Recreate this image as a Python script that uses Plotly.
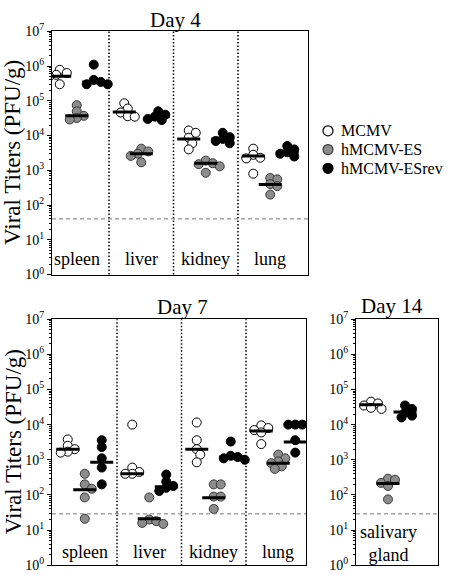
import numpy as np
import plotly.graph_objects as go

SERIES = ["MCMV", "hMCMV-ES", "hMCMV-ESrev"]
ORGANS_D4 = ["spleen", "liver", "kidney", "lung"]
ORGANS_D7 = ["spleen", "liver", "kidney", "lung"]
ORGANS_D14 = ["salivary<br>gland"]
TICK_EXPONENTS = [0, 1, 2, 3, 4, 5, 6, 7]

# Day 4 (PFU/g), one list per organ
D4_MCMV = [[7.8e5, 6.3e5, 5.6e5, 5.0e5, 3.0e5], [8.5e4, 6.0e4, 4.6e4, 3.6e4, 3.5e4],
           [1.4e4, 1.2e4, 8.7e3, 6.0e3, 4.0e3], [4.2e3, 2.8e3, 2.3e3, 2.2e3, 8.0e2]]
D4_ES = [[7.5e4, 5.0e4, 3.7e4, 3.2e4, 2.9e4], [4.2e3, 3.5e3, 3.0e3, 2.6e3, 1.7e3],
         [1.9e3, 1.6e3, 1.5e3, 1.3e3, 8.5e2], [6.0e2, 5.5e2, 4.0e2, 3.5e2, 2.0e2]]
D4_ESREV = [[1.1e6, 4.0e5, 3.5e5, 3.0e5, 3.0e5], [5.0e4, 4.0e4, 3.5e4, 3.0e4, 2.8e4],
            [1.2e4, 9.0e3, 8.0e3, 7.0e3, 6.0e3], [5.0e3, 4.0e3, 3.3e3, 3.0e3, 2.5e3]]
D4_MCMV_BAR = [5.1e5, 4.8e4, 7.9e3, 2.6e3]
D4_ES_BAR = [3.7e4, 3.0e3, 1.6e3, 3.9e2]
D4_ESREV_BAR = [3.5e5, 3.5e4, 8.0e3, 3.3e3]
D4_LIMIT = 40

# Day 7
D7_MCMV = [[3.8e3, 2.5e3, 2.0e3, 1.7e3, 1.6e3], [1.0e4, 6.0e2, 4.5e2, 4.0e2, 4.0e2],
           [1.15e4, 3.6e3, 2.0e3, 1.4e3, 8.5e2], [9.5e3, 8.0e3, 7.0e3, 6.0e3, 2.8e3]]
D7_ES = [[4.0e2, 2.0e2, 1.5e2, 8.5e1, 2.1e1], [8.5e1, 2.0e1, 1.8e1, 1.6e1, 1.5e1],
         [2.0e2, 2.0e2, 9.0e1, 9.0e1, 4.0e1], [1.4e3, 1.1e3, 9.0e2, 8.0e2, 6.5e2, 5.5e2]]
D7_ESREV = [[3.6e3, 2.3e3, 1.1e3, 6.0e2, 2.0e2], [3.8e2, 2.4e2, 1.8e2, 1.6e2, 1.3e2],
            [3.3e3, 1.3e3, 1.2e3, 1.1e3, 1.0e3], [1.0e4, 1.0e4, 1.0e4, 3.6e3, 1.6e3]]
D7_MCMV_BAR = [2.0e3, 4.0e2, 2.0e3, 6.6e3]
D7_ES_BAR = [1.4e2, 2.1e1, 8.3e1, 8.0e2]
D7_ESREV_BAR = [8.5e2, 1.7e2, 1.2e3, 3.2e3]
D7_LIMIT = 29

# Day 14
D14_MCMV = [[4.5e4, 4.0e4, 3.5e4, 3.0e4, 2.8e4]]
D14_ES = [[2.9e2, 2.7e2, 2.2e2, 1.8e2, 7.5e1]]
D14_ESREV = [[3.5e4, 2.8e4, 2.2e4, 1.8e4, 1.6e4]]
D14_MCMV_BAR = [3.7e4]
D14_ES_BAR = [2.1e2]
D14_ESREV_BAR = [2.3e4]
D14_LIMIT = 29

W, H = 450, 582
FONT = "Liberation Serif"
FILLS = ["white", "#8c8c8c", "black"]
EDGES = ["black", "#3a3a3a", "black"]
PX_UNIT = 64.5  # pixels per organ column
GROUP_OFF = [-17 / PX_UNIT, 0.0, 17 / PX_UNIT]
HALF_BAR = 11.5 / PX_UNIT


def px2paper_x(p):
    return p / W


def px2paper_y(p):
    return 1 - p / H


def swarm(values, px_decade, diam=6.0, step=3.5):
    """Simple beeswarm: horizontal offsets (in column units) avoiding heavy overlap."""
    ys = np.log10(np.asarray(values, dtype=float)) * px_decade
    order = np.argsort(-ys)
    placed = []
    offs = np.zeros(len(ys))
    cands = [0]
    for k in range(1, 8):
        cands += [k, -k]
    for idx in order:
        for c in cands:
            xo = c * step
            if all((xo - px) ** 2 + (ys[idx] - py) ** 2 >= diam ** 2 for px, py in placed):
                break
        placed.append((xo, ys[idx]))
        offs[idx] = xo / PX_UNIT
    return offs


panels = [
    dict(ax="", organs=ORGANS_D4, data=[D4_MCMV, D4_ES, D4_ESREV],
         bars=[D4_MCMV_BAR, D4_ES_BAR, D4_ESREV_BAR], limit=D4_LIMIT,
         xpx=(52, 308), ypx=(22, 273), div0=44.5, title="Day 4", tpos=(175, 10),
         label_y=257),
    dict(ax="2", organs=ORGANS_D7, data=[D7_MCMV, D7_ES, D7_ESREV],
         bars=[D7_MCMV_BAR, D7_ES_BAR, D7_ESREV_BAR], limit=D7_LIMIT,
         xpx=(52, 306), ypx=(319, 573), div0=52.5, title="Day 7", tpos=(182, 306),
         label_y=559),
    dict(ax="3", organs=ORGANS_D14, data=[D14_MCMV, D14_ES, D14_ESREV],
         bars=[D14_MCMV_BAR, D14_ES_BAR, D14_ESREV_BAR], limit=D14_LIMIT,
         xpx=(356, 438), ypx=(319, 573), div0=355.75, title="Day 14", tpos=(392, 305),
         label_y=551),
]

fig = go.Figure()
annotations = []
shapes = []

for p in panels:
    xa = "x" + p["ax"]
    ya = "y" + p["ax"]
    px_decade = (p["ypx"][1] - p["ypx"][0]) / 7.0
    n = len(p["organs"])
    for s, series in enumerate(p["data"]):
        xs, ys = [], []
        for i, vals in enumerate(series):
            offs = swarm(vals, px_decade)
            for v, o in zip(vals, offs):
                xs.append(i + 0.5 + GROUP_OFF[s] + o)
                ys.append(v)
        fig.add_trace(go.Scatter(
            x=xs, y=ys, mode="markers", xaxis=xa, yaxis=ya, showlegend=False,
            marker=dict(size=9, color=FILLS[s], line=dict(color=EDGES[s], width=1)),
            hoverinfo="skip"))
    bx, by = [], []
    for s, bars in enumerate(p["bars"]):
        for i, v in enumerate(bars):
            c = i + 0.5 + GROUP_OFF[s]
            bx += [c - HALF_BAR, c + HALF_BAR, None]
            by += [v, v, None]
    fig.add_trace(go.Scatter(x=bx, y=by, mode="lines", xaxis=xa, yaxis=ya,
                             showlegend=False, line=dict(color="black", width=3),
                             hoverinfo="skip"))
    x0 = (p["xpx"][0] - p["div0"]) / PX_UNIT
    x1 = (p["xpx"][1] - p["div0"]) / PX_UNIT
    key = p["ax"]
    fig.update_layout(**{
        "xaxis" + key: dict(domain=[px2paper_x(p["xpx"][0]), px2paper_x(p["xpx"][1])],
                            range=[x0, x1], showline=True, mirror=True, linecolor="black",
                            linewidth=1.3, showgrid=False, zeroline=False, ticks="",
                            showticklabels=False, anchor=ya),
        "yaxis" + key: dict(domain=[px2paper_y(p["ypx"][1]), px2paper_y(p["ypx"][0])],
                            type="log", range=[0, 7], showline=True, mirror=True,
                            linecolor="black", linewidth=1.3, showgrid=False, zeroline=False,
                            tickmode="array",
                            tickvals=[10 ** e for e in TICK_EXPONENTS],
                            ticktext=["10<sup>%d</sup>" % e for e in TICK_EXPONENTS],
                            ticks="outside", ticklen=4, tickcolor="black", tickwidth=1,
                            minor=dict(ticks="outside", ticklen=2, tickcolor="black",
                                       tickwidth=0.8, showgrid=False,
                                       tickvals=[m * 10 ** e for e in TICK_EXPONENTS[:-1]
                                                 for m in range(2, 10)]),
                            tickfont=dict(family=FONT, size=14, color="black"),
                            anchor=xa),
    })
    for i in range(1, n):
        shapes.append(dict(type="line", xref=xa, yref=ya + " domain", x0=i, x1=i, y0=0, y1=1,
                           line=dict(color="black", width=1.5, dash="1.5px,2px")))
    shapes.append(dict(type="line", xref=xa + " domain", yref=ya, x0=0, x1=1,
                       y0=p["limit"], y1=p["limit"],
                       line=dict(color="#777777", width=1, dash="4px,3px")))
    ly = (p["ypx"][1] - p["label_y"]) / (p["ypx"][1] - p["ypx"][0])
    for i, org in enumerate(p["organs"]):
        annotations.append(dict(x=i + 0.5, y=ly, xref=xa, yref=ya + " domain", text=org,
                                showarrow=False, xanchor="center", yanchor="middle",
                                font=dict(family=FONT, size=18, color="black")))
    annotations.append(dict(x=px2paper_x(p["tpos"][0]), y=px2paper_y(p["tpos"][1]),
                            xref="paper", yref="paper", text=p["title"], showarrow=False,
                            xanchor="center", yanchor="middle",
                            font=dict(family=FONT, size=21, color="black")))

for p in panels[:2]:
    cy = (p["ypx"][0] + p["ypx"][1]) / 2
    annotations.append(dict(x=px2paper_x(13), y=px2paper_y(cy), xref="paper", yref="paper",
                            text="Viral Titers (PFU/g)", textangle=-90, showarrow=False,
                            xanchor="center", yanchor="middle",
                            font=dict(family=FONT, size=23, color="black")))

# manual legend on a hidden axis
leg_idx = list(range(len(SERIES)))
for s, name in enumerate(SERIES):
    fig.add_trace(go.Scatter(x=[0.0615], y=[leg_idx[s]], mode="markers", xaxis="x4", yaxis="y4",
                             showlegend=False, hoverinfo="skip",
                             marker=dict(size=10, color=FILLS[s],
                                         line=dict(color=EDGES[s], width=1.2))))
    annotations.append(dict(x=0.145, y=leg_idx[s], xref="x4", yref="y4", text=name,
                            showarrow=False, xanchor="left", yanchor="middle",
                            font=dict(family=FONT, size=16, color="black")))
fig.update_layout(
    xaxis4=dict(domain=[px2paper_x(320), px2paper_x(450)], range=[0, 1], visible=False,
                anchor="y4"),
    yaxis4=dict(domain=[px2paper_y(173), px2paper_y(115)], range=[2.5, -0.5], visible=False,
                anchor="x4"),
)

fig.update_layout(width=W, height=H, margin=dict(l=0, r=0, t=0, b=0),
                  paper_bgcolor="white", plot_bgcolor="white", showlegend=False,
                  annotations=annotations, shapes=shapes,
                  font=dict(family=FONT, color="black"))

fig.write_html("out.html", config={"displayModeBar": False},
               post_script="document.body.style.margin='0';")
